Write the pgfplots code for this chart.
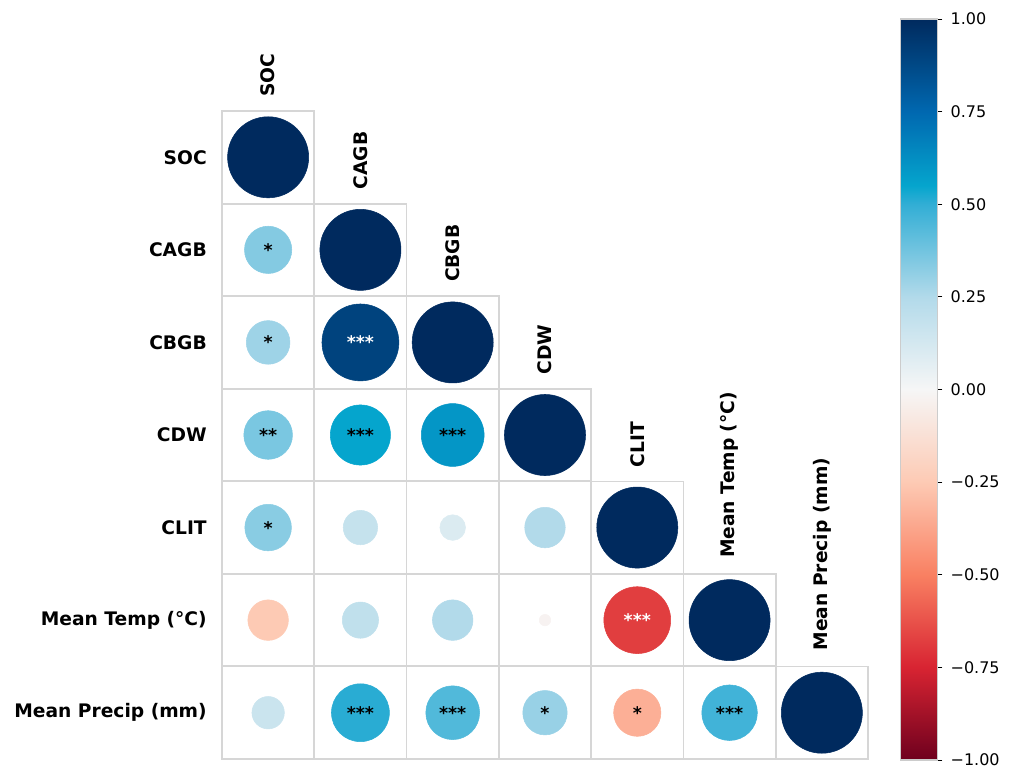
\documentclass[border=0pt]{standalone}
\usepackage{fontspec}
\setmainfont{DejaVu Sans}
\usepackage{pgfplots}
\pgfplotsset{compat=1.18}
\begin{document}
\begin{tikzpicture}
\useasboundingbox (0,0) rectangle (761.25pt,-585pt);
\begin{axis}[
  at={(166.5pt,-83.25pt)}, anchor=north west,
  scale only axis, width=484.5pt, height=486pt,
  xmin=0.5, xmax=7.5, ymin=0.5, ymax=7.5, y dir=reverse,
  enlargelimits=false, clip=false,
  axis line style={draw=none},
  xtick=\empty,
  ytick={1,2,3,4,5,6,7},
  yticklabels={SOC,CAGB,CBGB,CDW,CLIT,{Mean Temp (°C)},{Mean Precip (mm)}},
  major tick style={draw=none},
  yticklabel style={font=\fontsize{14}{16}\selectfont\bfseries, inner sep=0pt, xshift=-11.25pt},
  point meta min=-1, point meta max=1,
  colormap={corr}{rgb255(0pt)=(110,0,30) rgb255(25pt)=(216,36,50) rgb255(50pt)=(249,128,98) rgb255(75pt)=(253,202,180) rgb255(100pt)=(246,246,246) rgb255(125pt)=(178,218,234) rgb255(150pt)=(50,174,213) rgb255(155pt)=(5,165,205) rgb255(175pt)=(0,104,176) rgb255(187pt)=(0,74,136) rgb255(200pt)=(0,42,94)},
  colorbar,
  colorbar/width=27.75pt,
  colorbar style={
    at={(parent axis.south east)}, anchor=south west,
    xshift=15.75pt, yshift=-0.75pt,
    scale only axis, width=27.75pt, height=555.75pt,
    ymin=-1, ymax=1,
    ytick={-1,-0.75,-0.5,-0.25,0,0.25,0.5,0.75,1},
    yticklabels={−1.00,−0.75,−0.50,−0.25,0.00,0.25,0.50,0.75,1.00},
    ytick pos=right, yticklabel pos=right,
    tick align=outside, major tick length=3.75pt,
    major tick style={draw=black, line width=0.7pt},
    axis line style={draw=black!20, line width=0.8pt},
    yticklabel style={font=\fontsize{12}{14}\selectfont, inner sep=0pt, xshift=6pt},
  },
]
% cell frames (lower triangle)
\addplot[only marks, mark=square, mark size=34.6pt, mark options={draw=black!16, line width=1.2pt}] coordinates {
(1,1)
(1,2)(2,2)
(1,3)(2,3)(3,3)
(1,4)(2,4)(3,4)(4,4)
(1,5)(2,5)(3,5)(4,5)(5,5)
(1,6)(2,6)(3,6)(4,6)(5,6)(6,6)
(1,7)(2,7)(3,7)(4,7)(5,7)(6,7)(7,7)
};
% correlation circles
\addplot[scatter, only marks, mark=*,
  point meta=\thisrow{r},
  scatter/use mapped color={draw=mapped color, fill=mapped color},
  visualization depends on={30.4*sqrt(abs(\thisrow{r})) \as \rad},
  scatter/@pre marker code/.append style={/tikz/mark size=\rad}]
table {
x y r
1 1 1
1 2 0.34
2 2 1
1 3 0.29
2 3 0.90
3 3 1
1 4 0.36
2 4 0.55
3 4 0.60
4 4 1
1 5 0.33
2 5 0.18
3 5 0.10
4 5 0.25
5 5 1
1 6 -0.25
2 6 0.20
3 6 0.25
4 6 -0.02
5 6 -0.68
6 6 1
1 7 0.16
2 7 0.51
3 7 0.44
4 7 0.30
5 7 -0.34
6 7 0.47
7 7 1
};
% significance stars (black)
\addplot[only marks, mark=none, point meta=explicit symbolic, nodes near coords,
  every node near coord/.append style={anchor=center, inner sep=0pt, text=black, font=\fontsize{13}{14}\selectfont\bfseries}]
coordinates {
(1,2) [*]
(1,3) [*]
(1,4) [**]
(2,4) [***]
(3,4) [***]
(1,5) [*]
(2,7) [***]
(3,7) [***]
(4,7) [*]
(5,7) [*]
(6,7) [***]
};
% significance stars (white)
\addplot[only marks, mark=none, point meta=explicit symbolic, nodes near coords,
  every node near coord/.append style={anchor=center, inner sep=0pt, text=white, font=\fontsize{13}{14}\selectfont\bfseries}]
coordinates {
(2,3) [***]
(5,6) [***]
};
% column labels
\addplot[only marks, mark=none, point meta=explicit symbolic, nodes near coords,
  every node near coord/.append style={anchor=west, rotate=90, inner sep=0pt, text=black, font=\fontsize{14}{16}\selectfont\bfseries}]
coordinates {
(1,0.35) [SOC]
(2,1.35) [CAGB]
(3,2.35) [CBGB]
(4,3.35) [CDW]
(5,4.35) [CLIT]
(6,5.33) [Mean Temp (°C)]
(7,6.33) [Mean Precip (mm)]
};
\end{axis}
\end{tikzpicture}
\end{document}
